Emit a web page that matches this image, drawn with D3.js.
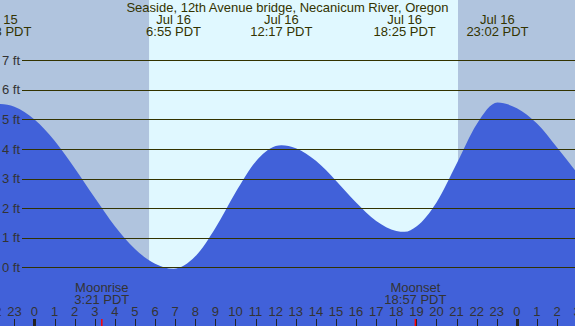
<!DOCTYPE html>
<html>
<head>
<meta charset="utf-8">
<style>
body { margin: 0; }
svg { display: block; font-family: "Liberation Sans", Arial, sans-serif; }
.grid { stroke: #333300; stroke-width: 1px; shape-rendering: crispEdges; }
.ftlabel { fill: #333333; font-size: 13px; }
.toplabel { fill: #333300; font-size: 13px; text-anchor: middle; }
.botlabel { fill: #333333; font-size: 13px; text-anchor: middle; }
</style>
</head>
<body>
<svg width="575" height="326"></svg>
<script src="https://cdn.jsdelivr.net/npm/d3@7"></script>
<script>
// hours after Jul 16 00:00 PDT, and tide height in ft
var tideHours = [-2, -1.7, -1, 0, 1, 2, 3, 4, 5, 6, 6.917, 8, 9, 10, 11, 12, 12.283, 13, 14, 15, 16, 17, 18, 18.417, 19, 20, 21, 22, 23.033, 24, 25, 26, 27];
var tideFeet = [5.50, 5.52, 5.43, 5.00, 4.28, 3.35, 2.35, 1.39, 0.62, 0.12, -0.05, 0.37, 1.33, 2.53, 3.57, 4.10, 4.13, 4.03, 3.60, 2.93, 2.19, 1.57, 1.23, 1.20, 1.38, 2.19, 3.50, 4.84, 5.57, 5.38, 4.86, 4.05, 3.19];

// high / low labels along the top
var extremeHours = [-1.7, 6.917, 12.283, 18.417, 23.033];
var extremeDays = ["Jul 15", "Jul 16", "Jul 16", "Jul 16", "Jul 16"];
var extremeTimes = ["22:18 PDT", "6:55 PDT", "12:17 PDT", "18:25 PDT", "23:02 PDT"];

// moon events along the bottom
var moonNames = ["Moonrise", "Moonset"];
var moonTimes = ["3:21 PDT", "18:57 PDT"];
var moonHours = [3.35, 18.95];

// daylight
var sunriseHour = 5.7;
var sunsetHour = 21.07;

var feetTicks = [0, 1, 2, 3, 4, 5, 6, 7];
var hourTicks = d3.range(-2, 28);

var title = "Seaside, 12th Avenue bridge, Necanicum River, Oregon";

var svg = d3.select("svg");
var width = 575, height = 326;

var x = d3.scaleLinear().domain([-1.716, 26.891]).range([0, width]);
var y = d3.scaleLinear().domain([-1.985, 9.04]).range([height, 0]);

// night background, then daylight band
svg.append("rect")
    .attr("width", width)
    .attr("height", height)
    .attr("fill", "#b0c4de");

svg.append("rect")
    .attr("x", x(sunriseHour))
    .attr("width", x(sunsetHour) - x(sunriseHour))
    .attr("height", height)
    .attr("fill", "#e0f8ff");

var tide = tideHours.map(function(h, i) { return [h, tideFeet[i]]; });

var area = d3.area()
    .x(function(d) { return x(d[0]); })
    .y0(height)
    .y1(function(d) { return y(d[1]); })
    .curve(d3.curveMonotoneX);

svg.append("path")
    .datum(tide)
    .attr("d", area)
    .attr("fill", "#4161d9");

// ft grid lines
svg.selectAll("line.grid")
    .data(feetTicks)
  .enter().append("line")
    .attr("class", "grid")
    .attr("x1", 22)
    .attr("x2", width)
    .attr("y1", function(d) { return Math.round(y(d)) + 0.5; })
    .attr("y2", function(d) { return Math.round(y(d)) + 0.5; });

svg.selectAll("text.ftlabel")
    .data(feetTicks)
  .enter().append("text")
    .attr("class", "ftlabel")
    .attr("x", 2)
    .attr("y", function(d) { return y(d); })
    .attr("dy", "0.35em")
    .text(function(d) { return d + " ft"; });

// title and tide extremes
svg.append("text")
    .attr("class", "toplabel")
    .attr("x", width / 2)
    .attr("y", 12)
    .text(title);

var ext = svg.selectAll("g.ext")
    .data(extremeHours)
  .enter().append("g")
    .attr("transform", function(d) { return "translate(" + x(d) + ",0)"; });

ext.append("text")
    .attr("class", "toplabel")
    .attr("y", 24)
    .text(function(d, i) { return extremeDays[i]; });

ext.append("text")
    .attr("class", "toplabel")
    .attr("y", 36)
    .text(function(d, i) { return extremeTimes[i]; });

// hour axis at the bottom
var xAxis = svg.append("g");

xAxis.selectAll("line")
    .data(hourTicks)
  .enter().append("line")
    .attr("x1", function(d) { return Math.round(x(d)) + 0.5; })
    .attr("x2", function(d) { return Math.round(x(d)) + 0.5; })
    .attr("y1", 319)
    .attr("y2", height)
    .attr("stroke", "#222")
    .attr("stroke-width", function(d) { return (d % 24 == 0) ? 3 : 1; });

xAxis.selectAll("text")
    .data(hourTicks)
  .enter().append("text")
    .attr("class", "botlabel")
    .attr("x", function(d) { return x(d); })
    .attr("y", 316)
    .text(function(d) { return ((d % 24) + 24) % 24; });

// moon events
var moon = svg.selectAll("g.moon")
    .data(moonHours)
  .enter().append("g")
    .attr("transform", function(d) { return "translate(" + x(d) + ",0)"; });

moon.append("line")
    .attr("y1", 319)
    .attr("y2", height)
    .attr("stroke", "#ff0000")
    .attr("stroke-width", 1.5);

moon.append("text")
    .attr("class", "botlabel")
    .attr("y", 292)
    .text(function(d, i) { return moonNames[i]; });

moon.append("text")
    .attr("class", "botlabel")
    .attr("y", 304)
    .text(function(d, i) { return moonTimes[i]; });
</script>
</body>
</html>
